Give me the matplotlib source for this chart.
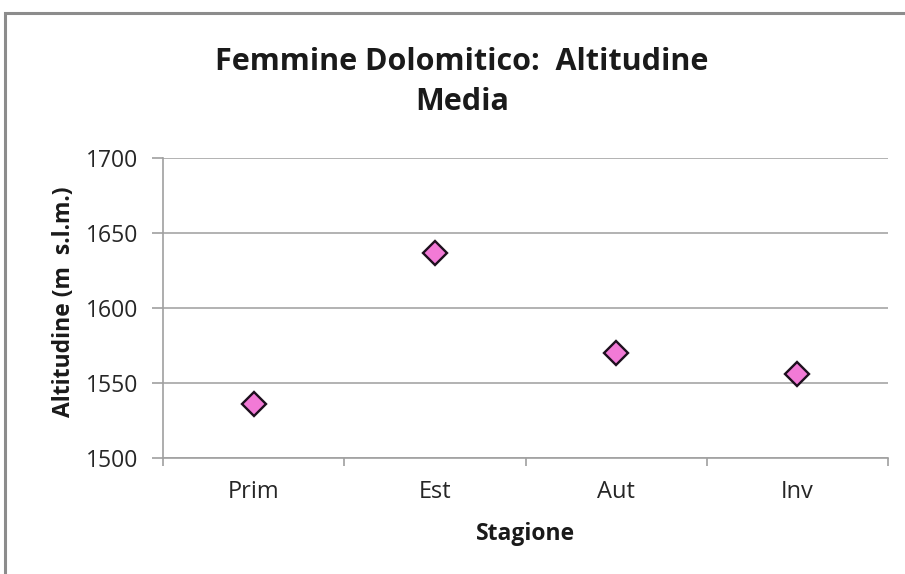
import matplotlib
matplotlib.use("Agg")
import matplotlib.pyplot as plt
from matplotlib.patches import Rectangle

# Mean altitude of dolomitic females per season
seasons = ["Prim", "Est", "Aut", "Inv"]
altitude = [1536, 1637, 1570, 1556]
yticks = [1500, 1550, 1600, 1650, 1700]

plt.rcParams['font.family'] = ['Open Sans', 'DejaVu Sans']

fig = plt.figure(figsize=(9.05, 5.74), dpi=100)
fig.patch.set_facecolor('white')

# chart-area border
fig.patches.append(Rectangle((5 / 905, -0.01), 1.0, (574 - 13) / 574 + 0.01,
                             transform=fig.transFigure, fill=False,
                             edgecolor='#8c8c8c', linewidth=2.2))

ax = fig.add_axes([163 / 905, 116 / 574, 725 / 905, 300 / 574])
x = list(range(len(seasons)))
ax.plot(x, altitude, linestyle='none', marker='D', markersize=12.5,
        markerfacecolor='#f27ad6', markeredgecolor='#1e0f1e',
        markeredgewidth=1.7, zorder=3)

ax.set_xlim(-0.5, len(seasons) - 0.5)
ax.set_ylim(1500, 1700)
ax.set_yticks(yticks)
ax.set_xticks(x)
ax.set_xticklabels(seasons)
ax.set_xticks([i - 0.5 for i in range(len(seasons) + 1)], minor=True)

ax.grid(axis='y', color='#a6a6a6', linewidth=1.2, zorder=0)
for s in ['top', 'right']:
    ax.spines[s].set_visible(False)
for s in ['left', 'bottom']:
    ax.spines[s].set_color('#a0a0a0')
    ax.spines[s].set_linewidth(1.2)

ax.tick_params(axis='y', length=8, width=1.2, color='#a0a0a0',
               labelsize=16.5, labelcolor='#262626', pad=10)
ax.tick_params(axis='x', which='major', length=0, labelsize=17,
               labelcolor='#262626', pad=16)
ax.tick_params(axis='x', which='minor', length=6, width=1.2, color='#a0a0a0')

ax.set_xlabel("Stagione", fontsize=16.5, fontweight='bold', color='#1a1a1a',
              labelpad=13)
ax.set_ylabel("Altitudine (m  s.l.m.)", fontsize=16.5, fontweight='bold',
              color='#1a1a1a', labelpad=8)
ax.yaxis.set_label_coords(-0.12, 0.52)

fig.text(462 / 905, 1 - 82 / 574, "Femmine Dolomitico:  Altitudine\nMedia",
         ha='center', va='center', fontsize=22, fontweight='bold',
         color='#1a1a1a', linespacing=1.45)

fig.savefig("out.png", dpi=100, facecolor='white')
